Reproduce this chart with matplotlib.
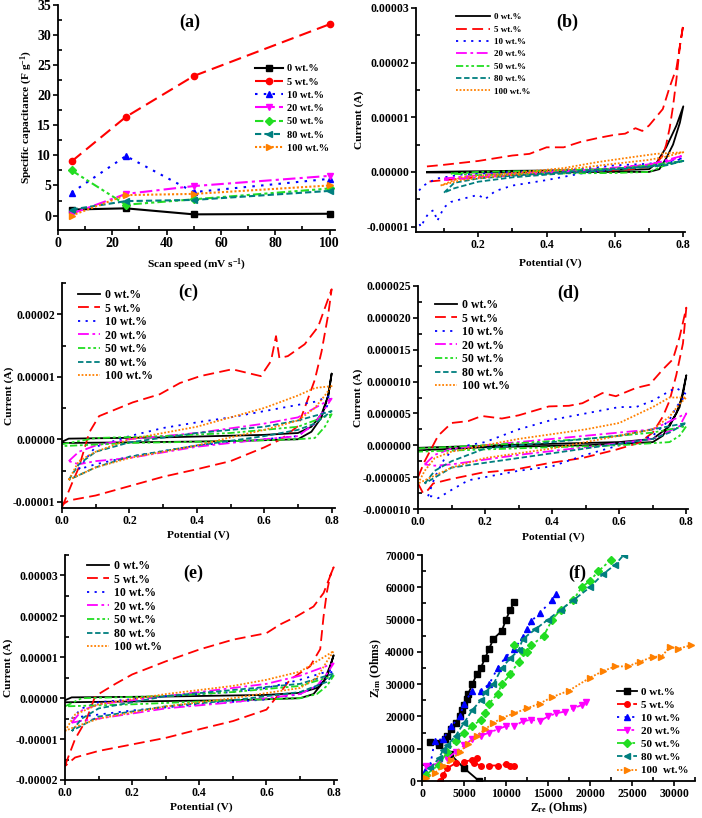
import matplotlib
matplotlib.use("Agg")
import matplotlib.pyplot as plt
from matplotlib.ticker import MultipleLocator, FuncFormatter

plt.rcParams['font.family'] = ['Liberation Serif', 'DejaVu Serif']
plt.rcParams['font.weight'] = 'bold'
plt.rcParams['mathtext.default'] = 'regular'
plt.rcParams['axes.linewidth'] = 1.3

# ---------------- data ----------------
labels = ['0 wt.%', '5 wt.%', '10 wt.%', '20 wt.%', '50 wt.%', '80 wt.%', '100 wt.%']
keys = ['0', '5', '10', '20', '50', '80', '100']

# (a) specific capacitance vs scan speed
scan_speed = [5, 25, 50, 100]
cap_0 = [1.0, 1.2, 0.2, 0.3]
cap_5 = [9.0, 16.4, 23.2, 31.8]
cap_10 = [3.8, 9.9, 3.9, 6.1]
cap_20 = [0.3, 3.6, 4.9, 6.6]
cap_50 = [7.5, 1.8, 2.7, 4.5]
cap_80 = [1.0, 2.4, 2.6, 4.1]
cap_100 = [0.0, 3.4, 3.6, 5.0]

# CV loops: (potential V, current uA), forward scan then reverse scan
cv_b = {
    '0': ([0.05, 0.3, 0.5, 0.65, 0.7, 0.72, 0.75, 0.78, 0.8, 0.79, 0.77, 0.75, 0.73, 0.7, 0.6, 0.4, 0.05],
          [0.0, 0.2, 0.3, 0.4, 0.5, 1.5, 4.5, 8.5, 12.0, 9.0, 5.0, 2.5, 0.5, 0.0, 0.0, -0.1, -0.1]),
    '5': ([0.05, 0.1, 0.2, 0.3, 0.35, 0.4, 0.45, 0.5, 0.55, 0.6, 0.63, 0.66, 0.68, 0.7, 0.72, 0.74, 0.76, 0.78, 0.79, 0.8,
           0.79, 0.78, 0.77, 0.76, 0.75, 0.74, 0.72, 0.7, 0.65, 0.6, 0.5, 0.4, 0.3, 0.2, 0.1, 0.05],
          [1.0, 1.3, 2.0, 3.0, 3.3, 4.5, 4.5, 5.5, 6.2, 6.8, 7.0, 8.0, 7.5, 8.5, 10.0, 11.5, 15.5, 19.0, 23.0, 27.0,
           23.0, 17.0, 12.0, 8.0, 5.0, 3.0, 1.5, 1.0, 0.5, 0.3, 0.0, -0.3, -0.6, -1.0, -1.5, -1.8]),
    '10': ([0.027, 0.04, 0.06, 0.08, 0.1, 0.15, 0.3, 0.5, 0.6, 0.7, 0.8,
            0.75, 0.7, 0.6, 0.5, 0.4, 0.3, 0.25, 0.22, 0.2, 0.15, 0.12, 0.1, 0.08, 0.07, 0.057, 0.045, 0.032, 0.025],
           [-3.4, -2.5, -1.8, -1.2, -1.0, -0.5, 0.0, 0.5, 1.2, 1.5, 2.5,
            1.5, 1.0, 0.5, -0.3, -1.5, -2.5, -3.5, -5.0, -4.2, -5.0, -5.5, -6.5, -9.0, -7.0, -7.4, -8.5, -10.1, -9.0]),
    '20': ([0.1, 0.2, 0.3, 0.5, 0.7, 0.8, 0.75, 0.6, 0.5, 0.3, 0.2, 0.1],
           [-1.2, -0.6, -0.3, 0.3, 1.3, 3.0, 1.8, 0.6, 0.2, -0.6, -1.0, -1.5]),
    '50': ([0.12, 0.2, 0.4, 0.6, 0.7, 0.8, 0.75, 0.7, 0.6, 0.4, 0.2, 0.12],
           [-0.3, 0.0, 0.2, 0.6, 1.2, 2.0, 1.3, 0.0, -0.2, -0.3, -0.6, -0.3]),
    '80': ([0.1, 0.13, 0.2, 0.3, 0.5, 0.7, 0.8, 0.75, 0.6, 0.4, 0.3, 0.2, 0.13, 0.1],
           [-3.8, -2.0, -1.2, -0.7, 0.2, 1.0, 2.0, 1.2, 0.4, -0.5, -1.0, -1.8, -3.0, -3.8]),
    '100': ([0.09, 0.15, 0.3, 0.45, 0.55, 0.65, 0.72, 0.8, 0.75, 0.7, 0.6, 0.45, 0.3, 0.15, 0.09],
            [-2.5, -1.0, -0.2, 0.7, 1.8, 2.7, 3.3, 3.6, 2.8, 2.2, 1.5, 0.4, -0.5, -1.5, -2.5]),
}

cv_c = {
    '0': ([0.0, 0.02, 0.3, 0.6, 0.7, 0.74, 0.77, 0.79, 0.8, 0.79, 0.77, 0.74, 0.7, 0.5, 0.2, 0.0],
          [-0.4, 0.1, 0.3, 0.7, 1.0, 2.0, 4.0, 7.0, 10.5, 7.0, 3.5, 1.2, 0.0, -0.3, -0.5, -0.6]),
    '5': ([0.0, 0.03, 0.05, 0.081, 0.11, 0.21, 0.29, 0.35, 0.41, 0.505, 0.59, 0.62, 0.635, 0.645, 0.67, 0.72, 0.76, 0.8,
           0.79, 0.77, 0.75, 0.72, 0.7, 0.65, 0.6, 0.5, 0.4, 0.3, 0.2, 0.1, 0.02, 0.0],
          [-10.9, -7.0, -4.5, 1.1, 3.7, 5.9, 7.2, 9.0, 10.1, 11.2, 10.1, 12.5, 16.5, 13.0, 13.3, 15.2, 18.0, 24.0,
           20.0, 14.0, 9.5, 5.0, 2.1, 0.0, -1.3, -3.5, -4.8, -6.0, -7.5, -9.0, -9.8, -10.5]),
    '10': ([0.05, 0.08, 0.1, 0.2, 0.3, 0.4, 0.5, 0.6, 0.7, 0.75, 0.8, 0.78, 0.75, 0.7, 0.6, 0.4, 0.2, 0.1, 0.05],
           [-4.8, -2.5, -1.2, 0.5, 1.8, 2.7, 3.5, 4.5, 5.5, 6.0, 7.0, 4.5, 2.5, 0.5, 0.0, -1.0, -2.8, -4.0, -4.8]),
    '20': ([0.02, 0.05, 0.1, 0.2, 0.4, 0.6, 0.7, 0.8, 0.75, 0.7, 0.6, 0.4, 0.2, 0.1, 0.05, 0.02],
           [-3.5, -2.0, -1.0, 0.0, 1.0, 2.5, 3.5, 6.5, 2.5, 0.5, 0.0, -1.2, -3.0, -3.5, -4.0, -3.5]),
    '50': ([0.0, 0.1, 0.3, 0.5, 0.7, 0.8, 0.78, 0.75, 0.7, 0.5, 0.2, 0.0],
           [-0.8, 0.2, 0.5, 1.0, 2.0, 4.0, 2.0, 0.2, 0.0, -0.3, -0.6, -1.1]),
    '80': ([0.02, 0.05, 0.1, 0.2, 0.4, 0.6, 0.7, 0.8, 0.75, 0.7, 0.6, 0.4, 0.2, 0.1, 0.02],
           [-6.5, -4.0, -2.0, -0.5, 1.0, 2.0, 3.0, 4.5, 2.5, 1.5, 0.5, -1.0, -2.8, -4.5, -6.5]),
    '100': ([0.02, 0.05, 0.1, 0.2, 0.4, 0.5, 0.6, 0.7, 0.75, 0.8, 0.78, 0.75, 0.7, 0.6, 0.5, 0.4, 0.2, 0.1, 0.02],
            [-6.5, -3.5, -2.0, 0.0, 2.0, 3.5, 5.0, 7.0, 8.2, 8.5, 7.0, 5.0, 3.0, 1.5, 0.3, -1.0, -3.0, -4.5, -6.5]),
}

cv_d = {
    '0': ([0.0, 0.3, 0.6, 0.7, 0.75, 0.78, 0.8, 0.79, 0.77, 0.73, 0.7, 0.5, 0.2, 0.0],
          [-0.4, 0.1, 0.5, 1.0, 3.0, 6.0, 11.0, 8.0, 5.0, 1.5, 0.5, 0.0, -0.3, -0.8]),
    '5': ([0.0, 0.02, 0.06, 0.1, 0.15, 0.19, 0.25, 0.3, 0.39, 0.45, 0.49, 0.55, 0.59, 0.65, 0.69, 0.73, 0.76, 0.78, 0.8,
           0.79, 0.77, 0.75, 0.73, 0.7, 0.66, 0.59, 0.49, 0.39, 0.29, 0.19, 0.09, 0.045, 0.03, 0.015, 0.0],
          [-5.0, -2.5, 1.5, 3.5, 3.8, 4.6, 4.2, 4.7, 6.1, 6.2, 6.6, 8.2, 7.7, 9.0, 9.5, 11.9, 13.5, 17.0, 21.6,
           16.0, 11.0, 7.0, 4.5, 2.0, 0.4, -0.7, -2.0, -2.8, -3.8, -4.3, -5.4, -6.0, -7.0, -7.5, -6.0]),
    '10': ([0.03, 0.05, 0.08, 0.1, 0.15, 0.2, 0.25, 0.3, 0.4, 0.45, 0.5, 0.55, 0.6, 0.65, 0.7, 0.75, 0.77, 0.8,
            0.77, 0.75, 0.72, 0.7, 0.65, 0.6, 0.5, 0.4, 0.3, 0.2, 0.15, 0.1, 0.06, 0.04, 0.03],
           [-8.0, -5.0, -2.0, -1.0, 0.0, 0.5, 1.5, 2.5, 4.0, 4.5, 5.0, 5.5, 6.0, 6.0, 7.0, 8.5, 9.0, 8.0,
            6.0, 4.0, 2.5, 1.5, 0.5, 0.0, -1.5, -3.3, -4.0, -5.0, -5.5, -7.0, -8.3, -8.0, -8.0]),
    '20': ([0.02, 0.05, 0.1, 0.3, 0.5, 0.7, 0.8, 0.78, 0.7, 0.5, 0.3, 0.1, 0.05, 0.02],
           [-3.0, -1.5, -0.5, 0.5, 1.5, 2.5, 5.0, 3.0, 1.0, -0.3, -1.5, -3.0, -3.2, -3.0]),
    '50': ([0.0, 0.2, 0.5, 0.7, 0.8, 0.78, 0.75, 0.6, 0.4, 0.0],
           [-0.5, 0.0, 1.0, 2.0, 3.0, 1.5, 0.5, 0.0, -0.3, -1.0]),
    '80': ([0.02, 0.05, 0.1, 0.2, 0.4, 0.6, 0.7, 0.8, 0.75, 0.7, 0.5, 0.3, 0.1, 0.02],
           [-6.0, -4.0, -2.5, -0.5, 0.5, 1.5, 2.5, 3.5, 2.0, 1.0, -0.5, -2.0, -3.5, -6.0]),
    '100': ([0.0, 0.02, 0.05, 0.1, 0.3, 0.5, 0.6, 0.7, 0.75, 0.8, 0.78, 0.75, 0.7, 0.6, 0.5, 0.4, 0.2, 0.1, 0.0],
            [-6.0, -4.0, -2.0, -1.0, 1.0, 2.5, 3.5, 6.0, 7.5, 7.5, 6.5, 4.5, 2.5, 1.5, 0.5, -0.5, -2.0, -3.5, -6.0]),
}

cv_e = {
    '0': ([0.0, 0.02, 0.3, 0.6, 0.7, 0.75, 0.78, 0.8, 0.79, 0.77, 0.74, 0.7, 0.5, 0.2, 0.0],
          [-0.5, 0.2, 0.4, 0.8, 1.3, 2.5, 5.0, 10.5, 8.0, 4.0, 1.0, 0.0, -0.5, -0.8, -1.0]),
    '5': ([0.0, 0.03, 0.064, 0.09, 0.15, 0.2, 0.3, 0.4, 0.5, 0.55, 0.6, 0.64, 0.69, 0.74, 0.77, 0.8,
           0.79, 0.78, 0.77, 0.76, 0.73, 0.67, 0.64, 0.6, 0.5, 0.4, 0.3, 0.2, 0.1, 0.03, 0.0],
          [-16.5, -10.0, -5.2, 0.5, 3.5, 5.8, 9.0, 11.9, 14.3, 15.1, 15.9, 18.0, 20.0, 22.4, 25.7, 32.0,
           30.0, 26.0, 20.0, 12.0, 7.8, 4.5, 1.3, -2.8, -5.6, -7.6, -9.7, -11.3, -12.9, -14.5, -16.6]),
    '10': ([0.02, 0.05, 0.1, 0.3, 0.5, 0.6, 0.7, 0.8, 0.78, 0.75, 0.7, 0.6, 0.4, 0.2, 0.1, 0.05, 0.02],
           [-5.0, -2.5, -1.0, 0.5, 1.5, 2.5, 4.5, 7.0, 5.0, 3.0, 1.0, -0.3, -1.5, -3.0, -4.0, -4.5, -5.0]),
    '20': ([0.02, 0.05, 0.1, 0.3, 0.5, 0.6, 0.7, 0.8, 0.78, 0.75, 0.7, 0.5, 0.3, 0.1, 0.05, 0.02],
           [-6.0, -3.0, -1.5, 0.5, 2.5, 3.5, 5.5, 8.5, 6.0, 3.0, 1.0, -1.0, -2.5, -5.0, -5.5, -6.0]),
    '50': ([0.0, 0.05, 0.3, 0.5, 0.7, 0.8, 0.78, 0.75, 0.7, 0.5, 0.2, 0.0],
           [-2.0, 0.0, 0.5, 1.5, 3.0, 5.5, 3.0, 1.0, 0.0, -0.5, -1.5, -2.0]),
    '80': ([0.02, 0.05, 0.1, 0.3, 0.5, 0.7, 0.8, 0.78, 0.7, 0.5, 0.3, 0.1, 0.02],
           [-8.0, -5.0, -2.5, 0.5, 2.0, 3.5, 6.0, 4.0, 1.5, -0.5, -2.0, -4.5, -8.0]),
    '100': ([0.0, 0.03, 0.1, 0.3, 0.5, 0.6, 0.7, 0.8, 0.78, 0.75, 0.7, 0.5, 0.3, 0.1, 0.03, 0.0],
            [-8.0, -4.0, -1.5, 1.0, 3.0, 4.5, 6.5, 11.5, 9.0, 5.0, 2.5, 0.0, -2.0, -5.0, -7.0, -8.0]),
}

# (f) Nyquist plot: Z_re (Ohms), Z_im (Ohms)
zre_0 = [6800, 5000, 3300, 2000, 1000, 2000, 2700, 3000, 3500, 4000, 4500, 4800, 5000, 5300, 5500, 6000, 6500,
         7000, 7500, 8000, 8500, 9500, 10000, 10500, 11000]
zim_0 = [0, 4000, 8500, 11000, 12200, 11800, 13000, 14000, 16000, 18000, 20000, 22000, 23500, 25500, 27000,
         30000, 33000, 35000, 38000, 41000, 44000, 46500, 50000, 53000, 55500]
zre_5 = [2200, 2500, 3000, 4000, 5000, 6000, 6500, 6200, 7000, 8000, 9000, 10000, 10500, 11000]
zim_5 = [0, 2000, 4000, 5500, 6000, 6500, 7200, 5500, 4800, 4800, 4800, 5200, 4600, 4700]
zre_10 = [300, 1000, 1500, 2500, 3500, 4500, 5000, 6000, 7000, 8000, 9000, 10000, 11000, 12000, 12500, 13000,
          14000, 15500, 16000]
zim_10 = [3000, 5000, 12500, 13000, 17000, 20000, 24000, 28000, 28000, 30000, 35000, 38500, 41000, 44500,
          47000, 49500, 52000, 56000, 58000]
zre_20 = [500, 2000, 3000, 4000, 5000, 6000, 7000, 8000, 9000, 10000, 11000, 12000, 13000, 14000, 15000,
          16000, 17000, 18000, 19000, 19500]
zim_20 = [4500, 5500, 7000, 9000, 11000, 13000, 14000, 15000, 16000, 17000, 17000, 18500, 19000, 18500,
          20000, 21000, 21500, 22500, 23500, 24500]
zre_50 = [500, 2000, 3000, 4000, 5000, 6000, 7000, 7500, 8000, 9000, 9500, 10500, 11500, 12000, 11000, 12500,
          13000, 14500, 15500, 16500, 18000, 19000, 20000, 21000, 22500]
zim_50 = [2000, 5000, 9000, 12500, 15000, 17000, 19000, 21000, 24000, 27000, 30000, 33000, 37000, 40000,
          42000, 40000, 42000, 45000, 50000, 53000, 56000, 60000, 62000, 65000, 68500]
zre_80 = [1000, 2000, 2500, 3000, 4000, 5000, 6000, 7000, 7500, 8500, 9500, 10500, 11500, 12000, 13500, 15000,
          16500, 18000, 20000, 21500, 23000, 24000]
zim_80 = [4000, 7000, 9500, 11000, 14000, 18000, 22000, 25000, 27500, 30000, 35000, 38000, 40500, 44000,
          47000, 50000, 53000, 56000, 60000, 64000, 67000, 70000]
zre_100 = [500, 1500, 2500, 3500, 4500, 5500, 6500, 7500, 8500, 9500, 11000, 12500, 14000, 15500, 17500, 20000,
           21500, 23000, 24500, 26000, 27500, 28500, 29500, 30500, 32000]
zim_100 = [1000, 2500, 4500, 6500, 9000, 11500, 14000, 16000, 18000, 19500, 21000, 22500, 24000, 26000, 28000,
           32000, 34000, 35500, 35500, 37000, 38500, 38500, 41500, 41000, 42000]

# ---------------- styles ----------------
colors = ['#000000', '#ff0000', '#0000ff', '#ff00ff', '#22dd22', '#007f7f', '#ff8000']
styles = ['-', (0, (6, 3)), (0, (1.2, 3)), (0, (6, 2, 1.5, 2)), (0, (4, 1.5, 1.5, 1.5, 1.5, 1.5)),
          (0, (3, 1.5)), (0, (1, 1))]
markers = ['s', 'o', '^', 'v', 'D', '<', '>']

W, H = 702, 818
fig = plt.figure(figsize=(W / 100, H / 100), dpi=100)


def add_ax(l, r, t, b):
    ax = fig.add_axes([l / W, 1 - b / H, (r - l) / W, (b - t) / H])
    ax._px = (l, r, t, b)
    return ax


def style_ax(ax, lsize):
    for s in ['top', 'right']:
        ax.spines[s].set_visible(False)
    ax.tick_params(which='both', labelsize=lsize, width=1.2)
    ax.tick_params(which='major', direction='out', length=3.5, pad=1.5)
    ax.tick_params(which='minor', direction='in', length=3)
    for lab in ax.get_xticklabels() + ax.get_yticklabels():
        lab.set_fontweight('bold')


def place_labels(ax, xl, yl, xly, ylx, size):
    l, r, t, b = ax._px
    ax.set_xlabel(xl, fontsize=size, fontweight='bold')
    ax.set_ylabel(yl, fontsize=size, fontweight='bold')
    ax.xaxis.set_label_coords(0.5, -(xly - b) / (b - t))
    ax.yaxis.set_label_coords(-(l - ylx) / (r - l), 0.5)
    ax.xaxis.label.set_va('center')
    ax.yaxis.label.set_va('center')
    ax.yaxis.label.set_ha('center')


def legend_at(ax, hx, ty, size, hl, ls):
    l, r, t, b = ax._px
    ax.legend(loc='upper left', bbox_to_anchor=((hx - l) / (r - l), 1 - (ty - t) / (b - t)), frameon=False,
              fontsize=size, handlelength=hl, labelspacing=ls, handletextpad=0.4, borderaxespad=0, borderpad=0)


def fmt(n):
    def f(v, pos):
        if abs(v) < 1e-12:
            v = 0.0
        return f'{v:.{n}f}'
    return FuncFormatter(f)


# ---------------- (a) ----------------
ax = add_ax(58, 335, 5, 230)
caps = [cap_0, cap_5, cap_10, cap_20, cap_50, cap_80, cap_100]
for c, col, ls, mk, lab in zip(caps, colors, styles, markers, labels):
    ax.plot(scan_speed, c, color=col, linestyle=ls, marker=mk, markersize=4.5, lw=1.5, label=lab)
ax.set_xlim(0, 102)
ax.set_ylim(-2.4, 35)
ax.xaxis.set_major_locator(MultipleLocator(20))
ax.xaxis.set_minor_locator(MultipleLocator(10))
ax.yaxis.set_major_locator(MultipleLocator(5))
ax.yaxis.set_minor_locator(MultipleLocator(2.5))
style_ax(ax, 10)
place_labels(ax, 'Scan speed (mV s$^{-1}$)', 'Specific capacitance (F g$^{-1}$)', 265, 27, 8.2)
fig.text(190 / W, 1 - 22 / H, '(a)', fontsize=13, fontweight='bold', ha='center', va='center')
legend_at(ax, 255, 64, 7.5, 2.7, 0.38)


def cv_panel(ax, data, ylim, ymaj, ymin, ndec):
    for k, col, ls, lab in zip(keys, colors, styles, labels):
        v, i = data[k]
        ax.plot(v, [x * 1e-6 for x in i], color=col, linestyle=ls, lw=1.3, label=lab)
    ax.set_ylim(*ylim)
    ax.xaxis.set_major_locator(MultipleLocator(0.2))
    ax.xaxis.set_minor_locator(MultipleLocator(0.1))
    ax.yaxis.set_major_locator(MultipleLocator(ymaj))
    ax.yaxis.set_minor_locator(MultipleLocator(ymin))
    ax.yaxis.set_major_formatter(fmt(ndec))
    ax.xaxis.set_major_formatter(fmt(1))
    style_ax(ax, 8.5)


# ---------------- (b) ----------------
ax = add_ax(416, 685, 8, 232)
ax.set_xlim(0.018, 0.805)
cv_panel(ax, cv_b, (-1.1e-5, 3.0e-5), 1e-5, 5e-6, 5)
place_labels(ax, 'Potential (V)', 'Current (A)', 263, 359, 8.2)
fig.text(567 / W, 1 - 22 / H, '(b)', fontsize=13, fontweight='bold', ha='center', va='center')
legend_at(ax, 456, 13, 6.5, 3.8, 0.45)

# ---------------- (c) ----------------
ax = add_ax(62, 335, 283, 508)
ax.set_xlim(0, 0.81)
cv_panel(ax, cv_c, (-1.1e-5, 2.5e-5), 1e-5, 5e-6, 5)
place_labels(ax, 'Potential (V)', 'Current (A)', 535, 9, 8.2)
fig.text(188 / W, 1 - 292 / H, '(c)', fontsize=13, fontweight='bold', ha='center', va='center')
legend_at(ax, 78, 289, 8.5, 1.9, 0.13)

# ---------------- (d) ----------------
ax = add_ax(418, 688, 286, 509)
ax.set_xlim(0, 0.805)
cv_panel(ax, cv_d, (-1.0e-5, 2.5e-5), 5e-6, 2.5e-6, 6)
place_labels(ax, 'Potential (V)', 'Current (A)', 537, 358, 8.2)
fig.text(568 / W, 1 - 293 / H, '(d)', fontsize=13, fontweight='bold', ha='center', va='center')
legend_at(ax, 435, 299, 8.5, 1.9, 0.13)

# ---------------- (e) ----------------
ax = add_ax(65, 337, 555, 780)
ax.set_xlim(0, 0.81)
cv_panel(ax, cv_e, (-2.0e-5, 3.5e-5), 1e-5, 5e-6, 5)
place_labels(ax, 'Potential (V)', 'Current (A)', 807, 8, 8.2)
fig.text(193 / W, 1 - 573 / H, '(e)', fontsize=13, fontweight='bold', ha='center', va='center')
legend_at(ax, 87, 560, 8.5, 1.9, 0.13)

# ---------------- (f) ----------------
ax = add_ax(422, 695, 555, 781)
zres = [zre_0, zre_5, zre_10, zre_20, zre_50, zre_80, zre_100]
zims = [zim_0, zim_5, zim_10, zim_20, zim_50, zim_80, zim_100]
flabels = ['0 wt.%', '5 wt.%', '10 wt.%', '20 wt.%', '50 wt.%', '80 wt.%', '100  wt.%']
for x, y, col, ls, mk, lab in zip(zres, zims, colors, styles, markers, flabels):
    ax.plot(x, y, color=col, linestyle=ls, marker=mk, markersize=4, lw=1.3, label=lab)
ax.set_xlim(0, 32500)
ax.set_ylim(0, 70000)
ax.xaxis.set_major_locator(MultipleLocator(5000))
ax.xaxis.set_minor_locator(MultipleLocator(2500))
ax.yaxis.set_major_locator(MultipleLocator(10000))
ax.yaxis.set_minor_locator(MultipleLocator(5000))
style_ax(ax, 8.5)
place_labels(ax, 'Z$_{re}$ (Ohms)', 'Z$_{im}$ (Ohms)', 808, 376, 8.5)
fig.text(577 / W, 1 - 573 / H, '(f)', fontsize=13, fontweight='bold', ha='center', va='center')
legend_at(ax, 617, 687, 8, 1.8, 0.3)

fig.savefig('out.png', dpi=100)
